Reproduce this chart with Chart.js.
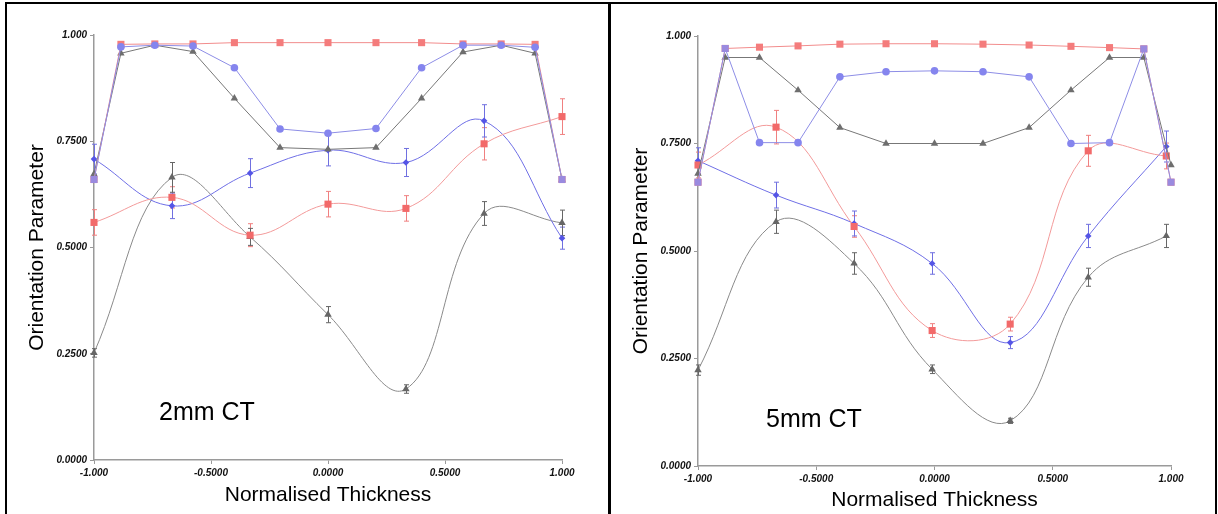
<!DOCTYPE html>
<html>
<head>
<meta charset="utf-8">
<script src="https://cdn.jsdelivr.net/npm/chart.js@4.4.1/dist/chart.umd.min.js"></script>
<style>
body { margin: 0; background: #fff; width: 1218px; height: 514px; overflow: hidden; position: relative; }
.rule { position: absolute; background: #000; }
canvas { position: absolute; }
</style>
</head>
<body>
<div class="rule" style="left:5px;top:2px;width:1212px;height:2px"></div>
<div class="rule" style="left:5px;top:2px;width:2px;height:512px"></div>
<div class="rule" style="left:608px;top:2px;width:3px;height:512px"></div>
<div class="rule" style="left:1215px;top:2px;width:2px;height:512px"></div>
<canvas id="ct2" width="600" height="510" style="left:7px;top:4px"></canvas>
<canvas id="ct5" width="600" height="510" style="left:612px;top:4px"></canvas>
<script>
var xTickLabels = ['-1.000', '-0.5000', '0.0000', '0.5000', '1.000'];
var yTickLabels = ['0.0000', '0.2500', '0.5000', '0.7500', '1.000'];

// profile positions for the flat (straight-line) series
var xUpper = [-1, -0.885, -0.74, -0.577, -0.40, -0.205, 0, 0.205, 0.40, 0.577, 0.74, 0.885, 1];

// 2mm CT
var xSmooth2 = [-1, -0.667, -0.333, 0, 0.333, 0.667, 1];
var redTop2 = [0.66, 0.978, 0.979, 0.979, 0.982, 0.982, 0.982, 0.982, 0.982, 0.979, 0.979, 0.978, 0.66];
var blueTop2 = [0.66, 0.972, 0.976, 0.974, 0.923, 0.779, 0.769, 0.780, 0.923, 0.976, 0.976, 0.971, 0.66];
var grayTop2 = [0.673, 0.957, 0.976, 0.961, 0.851, 0.735, 0.731, 0.735, 0.851, 0.960, 0.976, 0.957, 0.66];
var blueMid2 = [0.708, 0.598, 0.675, 0.729, 0.700, 0.798, 0.522];
var blueMidErr2 = [0.035, 0.030, 0.034, 0.037, 0.033, 0.038, 0.026];
var redMid2 = [0.559, 0.618, 0.529, 0.602, 0.592, 0.744, 0.808];
var redMidErr2 = [0.030, 0.025, 0.027, 0.030, 0.030, 0.038, 0.042];
var grayLow2 = [0.252, 0.665, 0.525, 0.342, 0.167, 0.580, 0.558];
var grayLowErr2 = [0.010, 0.035, 0.020, 0.019, 0.010, 0.028, 0.030];

// 5mm CT
var xSmooth5 = [-1, -0.67, -0.34, -0.01, 0.32, 0.65, 0.98];
var redTop5 = [0.66, 0.971, 0.974, 0.977, 0.981, 0.982, 0.982, 0.981, 0.979, 0.976, 0.973, 0.970, 0.66];
var blueTop5 = [0.66, 0.971, 0.752, 0.752, 0.905, 0.917, 0.919, 0.917, 0.905, 0.750, 0.752, 0.970, 0.66];
var grayTop5 = [0.68, 0.950, 0.950, 0.874, 0.787, 0.750, 0.750, 0.750, 0.787, 0.874, 0.950, 0.950, 0.70];
var blueMid5 = [0.710, 0.630, 0.564, 0.471, 0.287, 0.535, 0.743];
var blueMidErr5 = [0.030, 0.030, 0.029, 0.025, 0.014, 0.027, 0.036];
var redMid5 = [0.700, 0.788, 0.557, 0.315, 0.330, 0.733, 0.721];
var redMidErr5 = [0.030, 0.039, 0.025, 0.016, 0.016, 0.036, 0.030];
var grayLow5 = [0.223, 0.568, 0.471, 0.225, 0.105, 0.439, 0.535];
var grayLowErr5 = [0.012, 0.027, 0.025, 0.010, 0.006, 0.021, 0.027];

var FONT = '"Liberation Sans", Arial, sans-serif';
var PURPLE = '#9a8adf';

function pts(xs, ys) {
	var out = [];
	for (var i = 0; i < xs.length; i++) out.push({ x: xs[i], y: ys[i] });
	return out;
}

var errorBars = {
	id: 'errorBars',
	beforeDatasetsDraw: function (chart) {
		var ctx = chart.ctx;
		var xs = chart.scales.x, ys = chart.scales.y;
		chart.data.datasets.forEach(function (ds) {
			if (!ds.errors) return;
			ctx.save();
			ctx.strokeStyle = ds.errorColor;
			ctx.lineWidth = 1;
			ds.data.forEach(function (p, i) {
				var px = Math.round(xs.getPixelForValue(p.x)) + 0.5;
				var top = ys.getPixelForValue(p.y + ds.errors[i]);
				var bot = ys.getPixelForValue(p.y - ds.errors[i]);
				ctx.beginPath();
				ctx.moveTo(px, top); ctx.lineTo(px, bot);
				ctx.moveTo(px - 2.5, top); ctx.lineTo(px + 2.5, top);
				ctx.moveTo(px - 2.5, bot); ctx.lineTo(px + 2.5, bot);
				ctx.stroke();
			});
			ctx.restore();
		});
	}
};

var caption = {
	id: 'caption',
	afterDraw: function (chart, args, opts) {
		var ctx = chart.ctx;
		ctx.save();
		ctx.font = '25px ' + FONT;
		ctx.fillStyle = '#000';
		ctx.textBaseline = 'alphabetic';
		ctx.fillText(opts.text, opts.x, opts.y);
		ctx.restore();
	}
};

function line(data, color, pointColor, style, radius, tension, order) {
	return {
		data: data,
		borderColor: color,
		borderWidth: 1,
		backgroundColor: pointColor,
		pointBackgroundColor: pointColor,
		pointBorderWidth: 0,
		pointStyle: style,
		pointRadius: radius,
		tension: tension,
		order: order,
		clip: false
	};
}

function makeChart(id, p) {
	var endStyle = p.purpleAt;
	var topStyles = xUpper.map(function (x, i) { return endStyle.indexOf(i) >= 0 ? 'rect' : 'circle'; });
	var topColors = xUpper.map(function (x, i) { return endStyle.indexOf(i) >= 0 ? PURPLE : '#8585ee'; });
	var topRadius = xUpper.map(function (x, i) { return endStyle.indexOf(i) >= 0 ? 5 : 3.8; });

	var blueTop = line(pts(xUpper, p.blueTop), '#8d8de6', topColors, topStyles, topRadius, 0, 0);
	var redTop = line(pts(xUpper, p.redTop), '#f28c8c', '#f47c7c', 'rect', 5, 0, 1);
	var grayTop = line(pts(xUpper, p.grayTop), '#777777', '#6e6e6e', 'triangle', 4.3, 0, 2);

	var redMid = line(pts(p.xSmooth, p.redMid), '#f39a9a', '#f26a6a', 'rect', 5, 0.4, 3);
	redMid.errors = p.redMidErr; redMid.errorColor = '#f08080';
	var blueMid = line(pts(p.xSmooth, p.blueMid), '#6f6fe6', '#5555e6', 'rectRot', 3.3, 0.4, 4);
	blueMid.errors = p.blueMidErr; blueMid.errorColor = '#7070e0';
	var grayLow = line(pts(p.xSmooth, p.grayLow), '#8a8a8a', '#666666', 'triangle', 4.3, 0.4, 5);
	grayLow.errors = p.grayLowErr; grayLow.errorColor = '#666666';

	var tickFont = { family: FONT, size: 10, style: 'italic', weight: 'bold' };
	var titleFont = { family: FONT, size: 21 };

	return new Chart(document.getElementById(id), {
		type: 'line',
		data: { datasets: [blueTop, redTop, grayTop, redMid, blueMid, grayLow] },
		options: {
			responsive: false,
			animation: false,
			devicePixelRatio: 1,
			layout: { padding: { left: 0, top: p.top, right: p.right, bottom: 0 } },
			plugins: {
				legend: { display: false },
				tooltip: { enabled: false },
				caption: { text: p.caption, x: p.capX, y: p.capY }
			},
			scales: {
				x: {
					type: 'linear', min: -1, max: 1,
					afterFit: function (s) { s.height = p.xAxisHeight; },
					border: { color: '#9a9a9a', width: 1.5 },
					grid: { drawOnChartArea: false, tickLength: 4, color: '#9a9a9a' },
					ticks: {
						stepSize: 0.5, padding: 3, maxRotation: 0, autoSkip: false,
						color: '#111', font: tickFont,
						callback: function (v) { return xTickLabels[Math.round((v + 1) * 2)]; }
					},
					title: { display: true, text: 'Normalised Thickness', color: '#000', font: titleFont, padding: { top: 0, bottom: p.xTitlePad } }
				},
				y: {
					min: 0, max: 1,
					afterFit: function (s) { s.width = p.yAxisWidth; },
					border: { color: '#9a9a9a', width: 1.5 },
					grid: { drawOnChartArea: false, tickLength: 4, color: '#9a9a9a' },
					ticks: {
						stepSize: 0.25, padding: 3, color: '#111', font: tickFont,
						callback: function (v) { return yTickLabels[Math.round(v * 4)]; }
					},
					title: { display: true, text: 'Orientation Parameter', color: '#000', font: titleFont, padding: { top: p.yTitlePad, bottom: 0 } }
				}
			}
		},
		plugins: [errorBars, caption]
	});
}

makeChart('ct2', {
	xSmooth: xSmooth2,
	redTop: redTop2, blueTop: blueTop2, grayTop: grayTop2,
	blueMid: blueMid2, blueMidErr: blueMidErr2,
	redMid: redMid2, redMidErr: redMidErr2,
	grayLow: grayLow2, grayLowErr: grayLowErr2,
	purpleAt: [0, 12],
	top: 31, right: 45, yAxisWidth: 87, xAxisHeight: 54,
	xTitlePad: 6, yTitlePad: 18,
	caption: '2mm CT', capX: 152, capY: 416
});

makeChart('ct5', {
	xSmooth: xSmooth5,
	redTop: redTop5, blueTop: blueTop5, grayTop: grayTop5,
	blueMid: blueMid5, blueMidErr: blueMidErr5,
	redMid: redMid5, redMidErr: redMidErr5,
	grayLow: grayLow5, grayLowErr: grayLowErr5,
	purpleAt: [0, 1, 11, 12],
	top: 32, right: 41, yAxisWidth: 86, xAxisHeight: 48,
	xTitlePad: 1.4, yTitlePad: 17,
	caption: '5mm CT', capX: 154, capY: 423
});
</script>
</body>
</html>
